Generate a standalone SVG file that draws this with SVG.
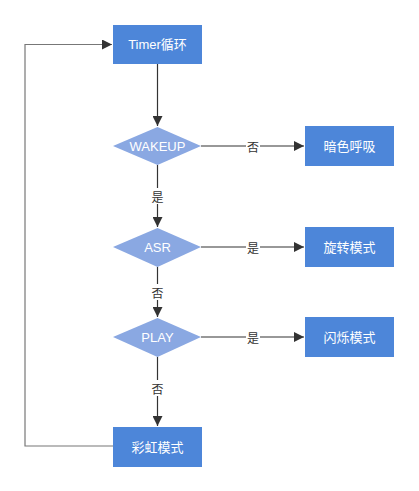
<svg xmlns="http://www.w3.org/2000/svg" width="419" height="491" viewBox="0 0 419 491">
<style>
.box{fill:#4d86d9;}
.dia{fill:#8aa8e2;}
.t{font-family:"Liberation Sans","Noto Sans CJK SC",sans-serif;font-size:13px;fill:#fff;text-anchor:middle;dominant-baseline:central;}
.l{font-family:"Noto Sans CJK SC",sans-serif;font-size:12px;fill:#333;text-anchor:middle;dominant-baseline:central;}
.c{stroke:#333;stroke-width:1.2;fill:none;}
.lb{fill:#fff;}
</style>
<defs>
<marker id="a" viewBox="0 0 10 10" refX="10" refY="5" markerWidth="10" markerHeight="10" markerUnits="userSpaceOnUse" orient="auto">
<path d="M0,0 L10,5 L0,10 z" fill="#333"/>
</marker>
</defs>
<g id="connectors">
<path class="c" d="M157.5,64 V126" marker-end="url(#a)"/>
<path class="c" d="M201,146 H304" marker-end="url(#a)"/>
<path class="c" d="M157.5,165 V227" marker-end="url(#a)"/>
<path class="c" d="M201,247 H304" marker-end="url(#a)"/>
<path class="c" d="M157.5,267 V317" marker-end="url(#a)"/>
<path class="c" d="M201,337 H304" marker-end="url(#a)"/>
<path class="c" d="M157.5,357 V426" marker-end="url(#a)"/>
<path class="c" d="M113,446 H25 V44.5 H112" marker-end="url(#a)" style="stroke:#777"/>
<rect class="lb" x="246" y="138" width="14" height="16"/>
<text class="l" x="253" y="146">否</text>
<rect class="lb" x="150" y="188" width="14" height="16"/>
<text class="l" x="157.5" y="196">是</text>
<rect class="lb" x="246" y="239" width="14" height="16"/>
<text class="l" x="253" y="247">是</text>
<rect class="lb" x="150" y="284" width="14" height="16"/>
<text class="l" x="157.5" y="292">否</text>
<rect class="lb" x="246" y="329" width="14" height="16"/>
<text class="l" x="253" y="337">是</text>
<rect class="lb" x="150" y="380" width="14" height="16"/>
<text class="l" x="157.5" y="388">否</text>
</g>
<g id="timer">
<rect class="box" x="113" y="25" width="89" height="39"/>
<text class="t" x="157.5" y="44.5">Timer循环</text>
</g>
<g id="wakeup">
<polygon class="dia" points="157.5,127 201,146 157.5,165 113,146"/>
<text class="t" x="157.5" y="146">WAKEUP</text>
</g>
<g id="breath">
<rect class="box" x="305" y="126" width="89" height="40"/>
<text class="t" x="349.5" y="146">暗色呼吸</text>
</g>
<g id="asr">
<polygon class="dia" points="157.5,228 201,247 157.5,267 113,247"/>
<text class="t" x="157.5" y="247">ASR</text>
</g>
<g id="rotate">
<rect class="box" x="305" y="227" width="89" height="40"/>
<text class="t" x="349.5" y="247">旋转模式</text>
</g>
<g id="play">
<polygon class="dia" points="157.5,318 201,337 157.5,357 113,337"/>
<text class="t" x="157.5" y="337">PLAY</text>
</g>
<g id="flash">
<rect class="box" x="305" y="317" width="89" height="40"/>
<text class="t" x="349.5" y="337">闪烁模式</text>
</g>
<g id="rainbow">
<rect class="box" x="113" y="427" width="89" height="40"/>
<text class="t" x="157.5" y="447">彩虹模式</text>
</g>
</svg>
